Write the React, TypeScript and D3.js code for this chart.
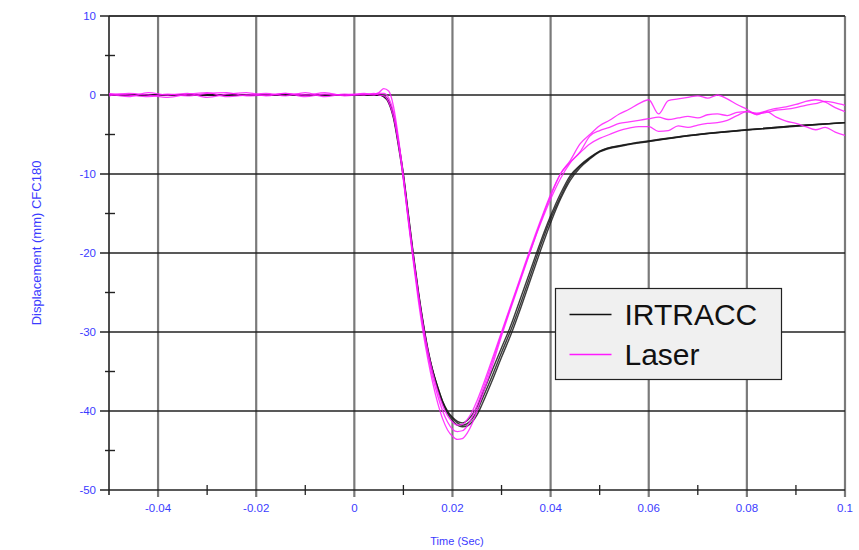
import * as d3 from "d3";

// IRTRACC sample times (s)
const tIrtracc = [-0.05, 0.005, 0.006, 0.007, 0.008, 0.009, 0.010, 0.011, 0.012, 0.013, 0.014, 0.015, 0.016, 0.017, 0.018, 0.019, 0.020, 0.021, 0.022, 0.023, 0.024, 0.025, 0.026, 0.028, 0.030, 0.032, 0.034, 0.036, 0.038, 0.040, 0.042, 0.044, 0.046, 0.048, 0.050, 0.055, 0.060, 0.070, 0.080, 0.090, 0.100];

const irtracc1 = [0, 0, -0.2, -1, -3, -6.5, -10.5, -15.5, -20.5, -25, -29, -32.5, -35, -37, -38.8, -40, -40.8, -41.3, -41.5, -41.2, -40.5, -39.5, -38, -35, -32, -29, -25.5, -22, -18.5, -15.3, -12.5, -10.2, -8.9, -7.9, -7.1, -6.3, -5.8, -5, -4.4, -3.9, -3.5];
const irtracc2 = [0, 0, -0.1, -0.8, -2.6, -6, -10, -15, -20, -24.6, -28.7, -32.2, -35, -37.2, -39, -40.3, -41.2, -41.8, -42, -41.9, -41.4, -40.5, -39.2, -36.3, -33.2, -30.2, -26.8, -23.2, -19.6, -16.2, -13.2, -10.8, -9.2, -8.1, -7.2, -6.4, -5.9, -5.05, -4.45, -3.95, -3.5];
const irtracc3 = [0, 0, -0.2, -0.9, -2.8, -6.2, -10.2, -15.2, -20.2, -24.8, -28.8, -32.3, -34.9, -37, -38.8, -40.1, -40.9, -41.5, -41.8, -41.6, -41, -40, -38.6, -35.7, -32.6, -29.6, -26.2, -22.6, -19, -15.7, -12.9, -10.5, -9, -8, -7.15, -6.35, -5.85, -5, -4.4, -3.9, -3.5];

// Laser sample times (s)
const tLaser = [-0.05, -0.046, -0.042, -0.038, -0.034, -0.030, -0.026, -0.022, -0.018, -0.014, -0.010, -0.006, -0.002, 0.002, 0.004, 0.005,
  0.006, 0.007, 0.008, 0.009, 0.010, 0.011, 0.012, 0.013, 0.014, 0.015, 0.016, 0.017, 0.018, 0.019, 0.020, 0.021, 0.022, 0.023, 0.024, 0.025, 0.026,
  0.028, 0.030, 0.032, 0.034, 0.036, 0.038, 0.040, 0.042, 0.044, 0.046, 0.048, 0.050, 0.052, 0.054, 0.056, 0.058, 0.060, 0.062, 0.064, 0.066, 0.068,
  0.070, 0.072, 0.074, 0.076, 0.078, 0.080, 0.082, 0.084, 0.086, 0.088, 0.090, 0.092, 0.094, 0.096, 0.098, 0.100];

const laser1 = [0.1, -0.2, 0.3, 0, 0.2, -0.3, 0.1, 0.3, -0.1, 0.2, -0.2, 0.1, 0, 0.2, 0.1, 0.3,
  0.8, 0.5, -1.5, -5.5, -10.5, -16, -21, -25.8, -30, -33.5, -36.5, -39, -41, -42.4, -43.2, -43.6, -43.5, -42.8, -41.6, -40, -38.2,
  -34.5, -30.5, -26.8, -23.2, -19.6, -16, -12.8, -10, -8.3, -6.2, -5, -3.9, -3.2, -2.4, -1.8, -1.1, -0.6, -2.4, -0.7, -0.5, -0.3,
  -0.1, -0.4, 0, -0.5, -1.2, -1.8, -2.5, -2.1, -2.8, -3.3, -3.6, -4, -4.4, -4.1, -4.7, -5.1];
const laser2 = [-0.1, 0.2, 0, -0.3, 0.1, 0.3, -0.2, 0, 0.2, -0.1, 0.3, -0.2, 0.1, 0, 0.2, 0,
  -0.1, -0.9, -2.8, -6.3, -10.8, -15.8, -20.7, -25.3, -29.4, -32.9, -35.8, -38.1, -40, -41.4, -42.3, -42.6, -42.5, -41.9, -40.8, -39.3, -37.6,
  -34, -30.2, -26.6, -23, -19.5, -16.2, -13.2, -10.6, -8.6, -7.2, -5.2, -4.5, -4.1, -3.6, -3.4, -3.2, -3, -2.8, -3.1, -2.9, -2.7,
  -2.9, -2.5, -2.4, -2.6, -2.2, -2.1, -2.4, -2.2, -1.9, -1.8, -1.6, -1.3, -1.1, -0.8, -1.0, -1.3];
const laser3 = [0.2, 0, -0.2, 0.1, -0.1, 0.2, 0.3, -0.1, 0, 0.2, 0, 0.3, -0.1, 0.1, 0, 0.2,
  0.2, -0.4, -2.2, -5.8, -10.2, -15.3, -20.3, -24.9, -29, -32.4, -35.2, -37.5, -39.3, -40.6, -41.4, -41.8, -41.7, -41.1, -40.1, -38.7, -37.1,
  -33.6, -30, -26.4, -22.8, -19.2, -15.8, -12.6, -10, -8.5, -7.3, -6.2, -5.5, -5, -4.5, -4.2, -4, -4, -4.6, -4.5, -3.9, -4.1,
  -3.8, -3.6, -3.5, -3.2, -2.6, -2.1, -2.3, -2, -1.7, -1.5, -1.2, -0.8, -0.6, -0.9, -1.6, -2.1];

const xMajor = [-0.04, -0.02, 0, 0.02, 0.04, 0.06, 0.08, 0.1];
const xMinor = [-0.03, -0.01, 0.01, 0.03, 0.05, 0.07, 0.09];
const yMajor = [10, 0, -10, -20, -30, -40, -50];
const yMinor = [5, -5, -15, -25, -35, -45];
const xLabels = ["-0.04", "-0.02", "0", "0.02", "0.04", "0.06", "0.08", "0.1"];

const legendItems = [
  { name: "IRTRACC", color: "#111" },
  { name: "Laser", color: "#ff1aff" },
];

const blue = "#3b3bff";
const font = "Arial, 'Liberation Sans', sans-serif";

export default function App() {
  const width = 859;
  const height = 550;
  const left = 109, right = 845, top = 16, bottom = 490;

  const x = d3.scaleLinear().domain([-0.05, 0.1]).range([left, right]);
  const y = d3.scaleLinear().domain([10, -50]).range([top, bottom]);

  const line = d3.line<[number, number]>()
    .x(d => x(d[0]))
    .y(d => y(d[1]))
    .curve(d3.curveMonotoneX);

  const zip = (t: number[], v: number[]) => t.map((tt, i) => [tt, v[i]] as [number, number]);

  const irtracc = [irtracc1, irtracc2, irtracc3];
  const laser = [laser1, laser2, laser3];

  return (
    <svg width={width} height={height} style={{ position: "absolute", left: 0, top: 0, background: "#fff" }}>
      {/* top border */}
      <line x1={left} x2={right} y1={top} y2={top} stroke="#8a8a8a" strokeWidth={2} />

      {/* vertical grid */}
      {xMajor.map(v => (
        <line key={"vx" + v} x1={x(v)} x2={x(v)} y1={top} y2={bottom + 7} stroke="#7a7a7a" strokeWidth={2.2} />
      ))}
      {xMinor.map(v => (
        <line key={"mx" + v} x1={x(v)} x2={x(v)} y1={bottom - 5} y2={bottom + 5} stroke="#222" strokeWidth={1.3} />
      ))}

      {/* horizontal grid */}
      {yMajor.map(v => (
        <line key={"hy" + v} x1={left - 9} x2={right} y1={y(v)} y2={y(v)} stroke="#222" strokeWidth={1.4} />
      ))}
      {yMinor.map(v => (
        <line key={"my" + v} x1={left - 4} x2={left + 6} y1={y(v)} y2={y(v)} stroke="#222" strokeWidth={1.4} />
      ))}

      {/* left axis */}
      <line x1={left} x2={left} y1={top} y2={bottom + 5} stroke="#222" strokeWidth={1.6} />

      {/* tick labels */}
      {yMajor.map(v => (
        <text key={"ly" + v} x={left - 13} y={y(v)} dy="0.35em" textAnchor="end"
          fontFamily={font} fontSize={11.5} fill={blue}>{v}</text>
      ))}
      {xMajor.map((v, i) => (
        <text key={"lx" + v} x={x(v)} y={bottom + 22} textAnchor="middle"
          fontFamily={font} fontSize={11.5} fill={blue}>{xLabels[i]}</text>
      ))}

      <text x={457} y={545} textAnchor="middle" fontFamily={font} fontSize={11} fill={blue}>Time (Sec)</text>
      <text transform="translate(41,243) rotate(-90)" textAnchor="middle" fontFamily={font} fontSize={13} fill={blue}>
        Displacement (mm) CFC180
      </text>

      {/* curves */}
      {irtracc.map((s, i) => (
        <path key={"i" + i} d={line(zip(tIrtracc, s)) ?? ""} fill="none" stroke="#1a1a1a" strokeWidth={1.4} strokeOpacity={0.85} />
      ))}
      {laser.map((s, i) => (
        <path key={"l" + i} d={line(zip(tLaser, s)) ?? ""} fill="none" stroke="#ff1aff" strokeWidth={1.3} strokeOpacity={0.85} />
      ))}

      {/* legend */}
      <g transform="translate(555.5,288.5)">
        <rect width={226} height={91} fill="#f0f0f0" stroke="#222" strokeWidth={1.2} />
        {legendItems.map((d, i) => (
          <g key={d.name} transform={`translate(0,${26 + i * 40})`}>
            <line x1={14} x2={56} y1={0} y2={0} stroke={d.color} strokeWidth={1.6} />
            <text x={69} y={10} fontFamily={font} fontSize={30} fill="#111">{d.name}</text>
          </g>
        ))}
      </g>
    </svg>
  );
}
